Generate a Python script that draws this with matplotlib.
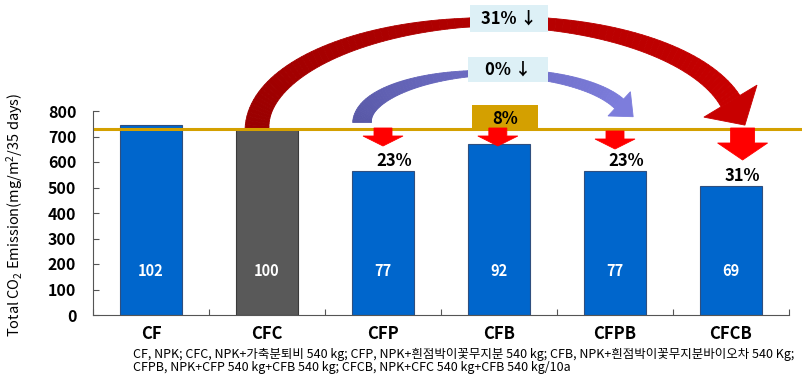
import numpy as np
import matplotlib
matplotlib.use("Agg")
import matplotlib.pyplot as plt
from matplotlib.patches import Polygon, Rectangle
from matplotlib.transforms import IdentityTransform
from matplotlib.colors import to_rgb

plt.rcParams['font.family'] = ['Noto Sans CJK KR', 'DejaVu Sans']
plt.rcParams['mathtext.fontset'] = 'custom'
plt.rcParams['mathtext.rm'] = 'Noto Sans'
plt.rcParams['mathtext.default'] = 'regular'

# data
categories = ["CF", "CFC", "CFP", "CFB", "CFPB", "CFCB"]
emission = [746, 730, 563, 671, 563, 505]
relative = [102, 100, 77, 92, 77, 69]
bar_colors = ["#0066CC", "#595959", "#0066CC", "#0066CC", "#0066CC", "#0066CC"]
edge_colors = ["#2F4F7F", "#3A3A3A", "#2F4F7F", "#2F4F7F", "#2F4F7F", "#2F4F7F"]
reference = 730
drop_labels = ["", "", "23%", "", "23%", "31%"]
footnote = ["CF, NPK; CFC, NPK+가축분퇴비 540 kg; CFP, NPK+흰점박이꽃무지분 540 kg; CFB, NPK+흰점박이꽃무지분바이오차 540 Kg;",
            "CFPB, NPK+CFP 540 kg+CFB 540 kg; CFCB, NPK+CFC 540 kg+CFB 540 kg/10a"]

fig = plt.figure(figsize=(8.03, 3.75), dpi=100)
ax = fig.add_axes([93 / 803, 60 / 375, 696 / 803, 204 / 375])
x = np.arange(len(categories))

ax.bar(x, emission, width=0.54, color=bar_colors, edgecolor=edge_colors, linewidth=0.8, zorder=2)
for xi, r in zip(x, relative):
    ax.text(xi, 172, str(r), color="white", fontsize=10.5, fontweight="bold",
            ha="center", va="center", zorder=3)

ax.set_xlim(-0.5, 5.5)
ax.set_ylim(0, 800)
ax.set_autoscale_on(False)
ax.set_yticks(range(0, 801, 100))
ax.set_xticks(np.arange(-0.5, 6, 1))
ax.set_xticklabels([])
ax.set_xticks(x, categories, minor=True)
ax.tick_params(axis="y", direction="in", length=4, pad=12, labelsize=11.5, color="#555555")
ax.tick_params(axis="x", which="major", direction="in", length=4, color="#555555")
ax.tick_params(axis="x", which="minor", length=0, pad=7, labelsize=12)
for lab in ax.get_yticklabels() + ax.get_xticklabels(minor=True):
    lab.set_fontweight("bold")
for s in ["top", "right"]:
    ax.spines[s].set_visible(False)
for s in ["left", "bottom"]:
    ax.spines[s].set_color("#555555")
ax.set_ylabel("Total CO$_2$ Emission(mg/m$^2$/35 days)", fontsize=10.5)
ax.yaxis.set_label_coords(-0.098, 0.49)

# reference level line
ax.plot([-0.48, 5.7], [reference, reference], color="#D4A000", lw=2.2, clip_on=False, zorder=4)

# 8% box over CFB
ax.add_patch(Rectangle((2.77, reference), 0.57, 94, facecolor="#D4A000", edgecolor="none",
                       clip_on=False, zorder=3))
ax.text(3.05, 770, "8%", fontsize=12, fontweight="bold", ha="center", va="center", zorder=5)


def to_px(xd, yd):
    return ax.transData.transform((xd, yd))


def add_px_patch(pts, col, z):
    p = Polygon(pts, closed=True, facecolor=col, edgecolor=col, lw=0.6,
                transform=IdentityTransform(), zorder=z, clip_on=False)
    ax.add_artist(p)


def down_arrow(xd, top_px, base_px, tip_px, shaft, head):
    cx = to_px(xd, reference)[0]
    ytop = 375 - top_px
    ybase = 375 - base_px
    ytip = 375 - tip_px
    pts = [(cx - shaft / 2, ytop), (cx + shaft / 2, ytop), (cx + shaft / 2, ybase),
           (cx + head / 2, ybase), (cx, ytip), (cx - head / 2, ybase), (cx - shaft / 2, ybase)]
    add_px_patch(pts, "#FF0000", 5)


def arc_arrow(base, centre_x, top, theta_end, widths, head_w, head_l, c0, c1, n=90):
    x0, y0 = to_px(*base)
    cx = to_px(centre_x, base[1])[0]
    ytop = to_px(centre_x, top)[1]
    a = cx - x0
    b = ytop - y0
    th = np.linspace(np.pi, np.radians(theta_end), n)
    px = cx + a * np.cos(th)
    py = y0 + b * np.sin(th)
    tx = a * np.sin(th)
    ty = -b * np.cos(th)
    nrm = np.hypot(tx, ty)
    tx, ty = tx / nrm, ty / nrm
    nx, ny = -ty, tx
    t = np.linspace(0, 1, n)
    w = np.interp(t, [0, 0.5, 1], widths) / 2
    c0, c1 = np.array(to_rgb(c0)), np.array(to_rgb(c1))
    for i in range(n - 1):
        quad = [(px[i] + w[i] * nx[i], py[i] + w[i] * ny[i]),
                (px[i + 1] + w[i + 1] * nx[i + 1], py[i + 1] + w[i + 1] * ny[i + 1]),
                (px[i + 1] - w[i + 1] * nx[i + 1], py[i + 1] - w[i + 1] * ny[i + 1]),
                (px[i] - w[i] * nx[i], py[i] - w[i] * ny[i])]
        col = c0 + (c1 - c0) * (t[i] + t[i + 1]) / 2
        add_px_patch(quad, col, 2)
    ex, ey = px[-1], py[-1]
    head = [(ex + head_w / 2 * nx[-1], ey + head_w / 2 * ny[-1]),
            (ex + head_l * tx[-1], ey + head_l * ty[-1]),
            (ex - head_w / 2 * nx[-1], ey - head_w / 2 * ny[-1])]
    add_px_patch(head, c1, 2)


# large curved arrows (CFC -> CFCB, CFP -> CFPB)
arc_arrow((0.914, reference), 2.99, 1150, 15, [24, 9, 22], 62, 28, "#9A0000", "#C80000")
arc_arrow((1.82, 755), 2.97, 950, 22, [19, 6, 13], 33, 19, "#5858A6", "#7D7DDC")

# label boxes on top of the arcs
for (x0, y0, w, h, yc, txt) in [(2.75, 1110, 0.67, 106, 1163, "31% ↓"),
                                (2.73, 914, 0.69, 98, 963, "0% ↓")]:
    ax.add_patch(Rectangle((x0, y0), w, h, facecolor="#DDF0F6", edgecolor="none",
                           clip_on=False, zorder=6))
    ax.text(x0 + w / 2, yc, txt, fontsize=12, fontweight="bold", ha="center", va="center",
            zorder=7, clip_on=False)

# small red reduction arrows
down_arrow(2.0, 128, 136, 146, 18, 40)
down_arrow(2.99, 128, 136, 146, 18, 40)
down_arrow(4.0, 131, 139, 149, 18, 40)
down_arrow(5.1, 128, 143, 160, 24, 50)

for xi, v, lab in zip(x, emission, drop_labels):
    if lab:
        ax.text(xi + 0.1, v + 40, lab, fontsize=12, fontweight="bold", ha="center",
                va="center", zorder=5)

fig.text(133 / 803, 1 - 354 / 375, footnote[0], fontsize=9, ha="left", va="center")
fig.text(133 / 803, 1 - 368 / 375, footnote[1], fontsize=9, ha="left", va="center")

fig.savefig("out.png", dpi=100)
